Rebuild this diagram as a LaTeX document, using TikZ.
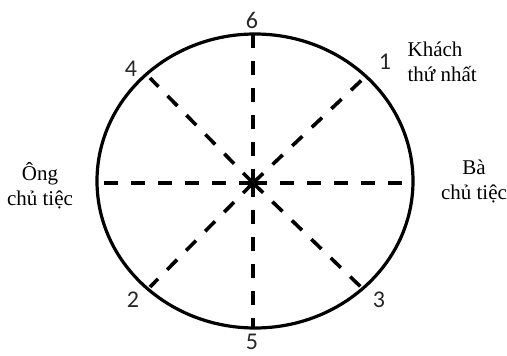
\documentclass[tikz,border=0pt]{standalone}
\usepackage{fontspec}
\setmainfont{Liberation Serif}
\newfontfamily\digitfont{Carlito}
\usepackage{tikz}
\tikzset{every node/.append style={font=\fontsize{21}{25}\selectfont}}

\begin{document}
\begin{tikzpicture}[x=1pt, y=-1pt, line width=3.2pt,
    seat/.style={font=\digitfont\fontsize{24}{28}\selectfont, text=black!85, inner sep=1pt},
    guest/.style={align=center, inner sep=0pt},
    spoke/.style={line width=3.6pt, dash pattern=on 14pt off 13pt}]
    \useasboundingbox (0,0) rectangle (507,356);
    % the round table
    \draw (255,181) ellipse [x radius=158, y radius=147];
    % centre and seats on the rim
    \coordinate (O) at (253,183);
    \coordinate (p6) at (253,34);
    \coordinate (p5) at (253,328);
    \coordinate (pL) at (97,183);
    \coordinate (pR) at (413,183);
    \coordinate (p4) at (150,78);
    \coordinate (p3) at (363,289);
    \coordinate (p1) at (366,76);
    \coordinate (p2) at (150,287);
    % dashed spokes from the centre
    \foreach \p in {p6, p5, pL, pR, p4, p3, p1, p2}
        \draw[spoke] (O) -- (\p);
    % seat numbers
    \node[seat] (n6) at (252,20) {6};
    \node[seat] (n1) at (385,62) {1};
    \node[seat] (n4) at (131,69) {4};
    \node[seat] (n2) at (133,300) {2};
    \node[seat] (n3) at (379,300) {3};
    \node[seat] (n5) at (252,342) {5};
    % guests
    \node[guest, align=left, anchor=west] (first) at (406,62) {Khách\\thứ nhất};
    \node[guest] (host) at (40,186) {Ông\\chủ tiệc};
    \node[guest] (hostess) at (474,181) {Bà\\chủ tiệc};
\end{tikzpicture}
\end{document}
